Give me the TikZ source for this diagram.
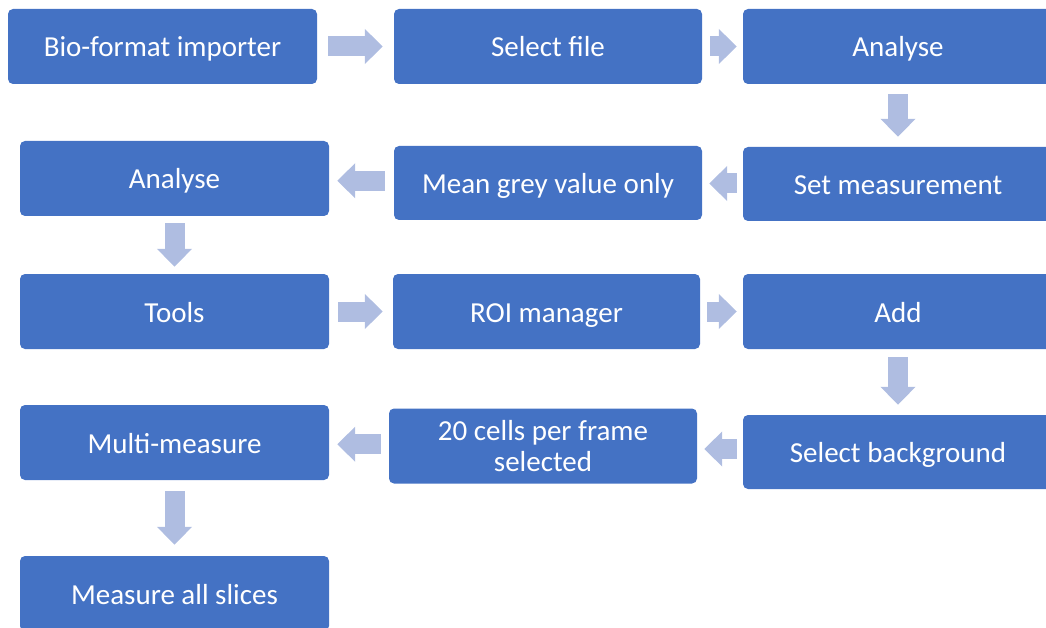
\documentclass[tikz,border=0pt]{standalone}
\usepackage{fontspec}
\setmainfont{Carlito}
\usetikzlibrary{arrows.meta,calc}
\definecolor{boxblue}{RGB}{68,114,196}
\definecolor{arrowblue}{RGB}{175,189,225}
\tikzset{
  basebox/.style={rectangle, rounded corners=5pt, fill=boxblue, draw=none,
    text=white, inner sep=0pt, minimum height=75pt, minimum width=309pt,
    align=center, font=\fontsize{29}{31}\selectfont},
  stepbox/.style={basebox, text height=21pt, text depth=0pt},
  blockarrow/.style={draw=arrowblue, line width=20pt,
    -{Triangle[length=18pt,width=34pt]}, arrowblue},
}
\begin{document}
\begin{tikzpicture}[x=1pt,y=-1pt]
  \useasboundingbox (0,0) rectangle (1046,628);
  \clip (0,0) rectangle (1046,628);

  % row 1
  \node[stepbox] (bio)   at (162.5,46.5) {Bio-format importer};
  \node[stepbox, minimum width=308pt] (sel) at (548,46.5) {Select file};
  \node[stepbox, minimum width=310pt] (an1) at (898,46.5) {Analyse};
  % row 2
  \node[stepbox] (an2)   at (174.5,178.5) {Analyse};
  \node[stepbox, minimum width=308pt, minimum height=74pt] (mean) at (548,183) {Mean grey value only};
  \node[stepbox, minimum width=310pt, minimum height=74pt] (setm) at (898,184) {Set measurement};
  % row 3
  \node[stepbox] (tools) at (174.5,311.5) {Tools};
  \node[stepbox, minimum width=307pt] (roi) at (546.5,311.5) {ROI manager};
  \node[stepbox, minimum width=310pt] (add) at (898,311.5) {Add};
  % row 4
  \node[stepbox] (multi) at (174.5,442.5) {Multi-measure};
  \node[basebox, minimum width=308pt] (cells) at (543,446) {20 cells per frame\\selected};
  \node[stepbox, minimum width=310pt, minimum height=74pt] (bg) at (898,452) {Select background};
  % row 5
  \node[stepbox] (meas)  at (174.5,593.5) {Measure all slices};

  % horizontal connectors run at the mid height of the two boxes
  \newcommand{\hconn}[4]{%
    \coordinate (m) at ($(#1)!.5!(#2)$);
    \draw[blockarrow, shorten <=#3pt, shorten >=#4pt] (#1 |- m) -- (#2 |- m);}
  \hconn{bio.east}{sel.west}{11}{11}
  \hconn{sel.east}{an1.west}{8}{6}
  \hconn{setm.west}{mean.east}{6}{7}
  \hconn{mean.west}{an2.east}{9}{8}
  \hconn{tools.east}{roi.west}{9}{10}
  \hconn{roi.east}{add.west}{7}{6}
  \hconn{bg.west}{cells.east}{6}{7}
  \hconn{cells.west}{multi.east}{8}{8}

  % vertical connectors
  \draw[blockarrow, shorten <=10pt, shorten >=10pt] (an1.south) -- (setm.north);
  \draw[blockarrow, shorten <=7pt, shorten >=7pt] (an2.south) -- (tools.north);
  \draw[blockarrow, shorten <=8pt, shorten >=10pt] (add.south) -- (bg.north);
  \draw[blockarrow, shorten <=11pt, shorten >=11pt] (multi.south) -- (meas.north);
\end{tikzpicture}
\end{document}
